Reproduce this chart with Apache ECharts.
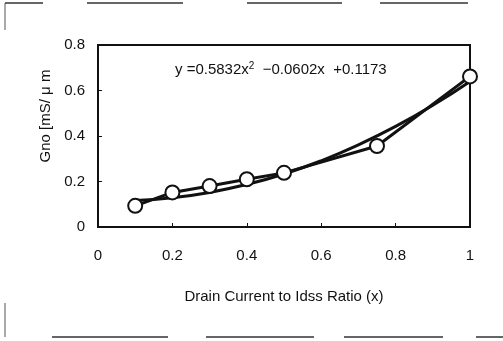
<!DOCTYPE html>
<html><head><meta charset="utf-8">
<script src="https://cdn.jsdelivr.net/npm/echarts@6/dist/echarts.min.js"></script>
<style>html,body{margin:0;padding:0;background:#fff}#c{width:503px;height:341px}</style>
</head><body><div id="c"></div>
<script>
var xData = [0.1, 0.2, 0.3, 0.4, 0.5, 0.75, 1.0];
var yData = [0.093, 0.152, 0.180, 0.210, 0.238, 0.356, 0.662];
var trendX = [0.1, 0.2, 0.3, 0.4, 0.5, 0.6, 0.7, 0.8, 0.9, 1.0];
var trendY = [0.117, 0.129, 0.152, 0.187, 0.233, 0.291, 0.361, 0.442, 0.535, 0.640];
var xTicks = ["0", "0.2", "0.4", "0.6", "0.8", "1"];
var yTicks = ["0", "0.2", "0.4", "0.6", "0.8"];
var fnt = 'Liberation Sans, Arial, sans-serif';
var chart = echarts.init(document.getElementById('c'), null, {renderer: 'canvas'});
function pairs(a, b) { return a.map(function (v, i) { return [v, b[i]]; }); }
chart.setOption({
  animation: false,
  backgroundColor: '#fff',
  title: {
    text: '{a|y =0.5832x}{s|2}{a|  \u22120.0602x  +0.1173}',
    left: 170, top: 56,
    textStyle: {
      fontWeight: 'normal',
      rich: {
        a: {fontFamily: fnt, fontSize: 15, fontWeight: 'normal', color: '#111'},
        s: {fontFamily: fnt, fontSize: 10, fontWeight: 'normal', color: '#111', verticalAlign: 'top', padding: [0, 0, 8, 0]}
      }
    }
  },
  grid: {left: 98, right: 33, top: 45, bottom: 114, show: true, borderColor: '#111', borderWidth: 2, backgroundColor: '#fff'},
  xAxis: {
    type: 'value', min: 0, max: 1, interval: 0.2,
    name: 'Drain Current to Idss Ratio (x)', nameLocation: 'middle', nameGap: 62,
    nameTextStyle: {fontFamily: fnt, fontSize: 15, color: '#111'},
    axisLine: {lineStyle: {color: '#111', width: 2}},
    axisTick: {inside: true, length: 4, lineStyle: {color: '#111'}},
    splitLine: {show: false},
    axisLabel: {margin: 21, fontFamily: fnt, fontSize: 15, color: '#111',
      formatter: function (v) { return xTicks[Math.round(v / 0.2)]; }}
  },
  yAxis: {
    type: 'value', min: 0, max: 0.8, interval: 0.2,
    name: 'Gno [mS/ \u03bc m', nameLocation: 'middle', nameGap: 44,
    nameTextStyle: {fontFamily: fnt, fontSize: 15, color: '#111', padding: [0, 0, 0, 40]},
    axisLine: {show: true, lineStyle: {color: '#111', width: 2}},
    axisTick: {show: true, inside: true, length: 4, lineStyle: {color: '#111'}},
    splitLine: {show: false},
    axisLabel: {margin: 13, fontFamily: fnt, fontSize: 15, color: '#111',
      formatter: function (v) { return yTicks[Math.round(v / 0.2)]; }}
  },
  series: [
    {type: 'line', data: pairs(trendX, trendY), smooth: true, symbol: 'none',
     lineStyle: {color: '#111', width: 3}, z: 2},
    {type: 'line', data: pairs(xData, yData), symbol: 'circle', symbolSize: 14,
     lineStyle: {color: '#111', width: 3},
     itemStyle: {color: '#fff', borderColor: '#111', borderWidth: 2}, z: 3}
  ],
  graphic: [
    {type: 'line', shape: {x1: 5, y1: 3, x2: 43, y2: 3}, style: {stroke: '#333', lineWidth: 1.5}},
    {type: 'line', shape: {x1: 87, y1: 3, x2: 183, y2: 3}, style: {stroke: '#333', lineWidth: 1.5}},
    {type: 'line', shape: {x1: 247, y1: 3, x2: 342, y2: 3}, style: {stroke: '#333', lineWidth: 1.5}},
    {type: 'line', shape: {x1: 380, y1: 3, x2: 468, y2: 3}, style: {stroke: '#333', lineWidth: 1.5}},
    {type: 'line', shape: {x1: 5, y1: 3, x2: 5, y2: 30}, style: {stroke: '#555', lineWidth: 1}},
    {type: 'line', shape: {x1: 5, y1: 303, x2: 5, y2: 337}, style: {stroke: '#555', lineWidth: 1}},
    {type: 'line', shape: {x1: 52, y1: 337, x2: 168, y2: 337}, style: {stroke: '#333', lineWidth: 1.5}},
    {type: 'line', shape: {x1: 206, y1: 337, x2: 314, y2: 337}, style: {stroke: '#333', lineWidth: 1.5}},
    {type: 'line', shape: {x1: 344, y1: 337, x2: 443, y2: 337}, style: {stroke: '#333', lineWidth: 1.5}},
    {type: 'line', shape: {x1: 476, y1: 337, x2: 503, y2: 337}, style: {stroke: '#333', lineWidth: 1.5}}
  ]
});
</script></body></html>
